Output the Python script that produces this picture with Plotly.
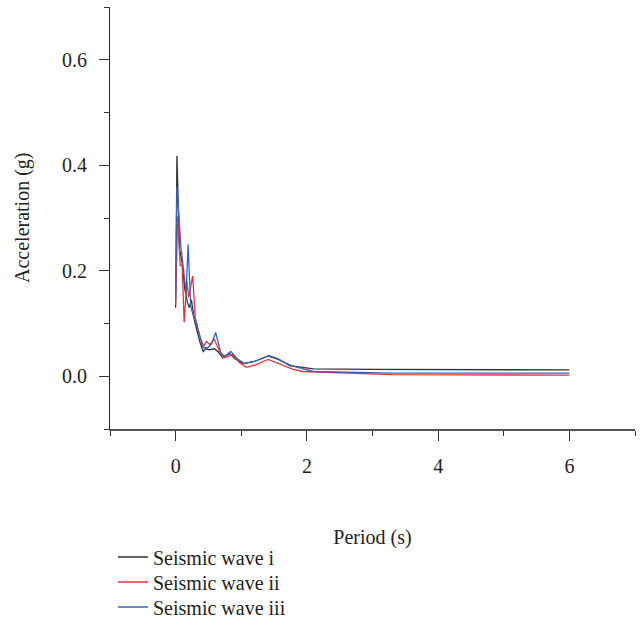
import plotly.graph_objects as go

# Seismic wave i (black)
period_i = [0, 0.02, 0.06, 0.1, 0.14, 0.18, 0.21, 0.24, 0.29, 0.33, 0.37, 0.42, 0.46, 0.51,
            0.59, 0.65, 0.72, 0.82, 0.92, 1.03, 1.2, 1.42, 1.56, 1.74, 2.1, 3.0, 4.5, 6.0]
acc_i = [0.13, 0.418, 0.24, 0.215, 0.165, 0.14, 0.13, 0.145, 0.104, 0.085, 0.065, 0.047, 0.052, 0.05,
         0.052, 0.046, 0.035, 0.043, 0.032, 0.024, 0.028, 0.039, 0.033, 0.02, 0.014, 0.013, 0.012, 0.012]

# Seismic wave ii (red)
period_ii = [0, 0.03, 0.07, 0.1, 0.13, 0.17, 0.2, 0.23, 0.26, 0.3, 0.34, 0.38, 0.43, 0.47, 0.52,
             0.59, 0.67, 0.74, 0.87, 0.98, 1.08, 1.23, 1.41, 1.61, 1.79, 1.94, 2.5, 3.3, 6.0]
acc_ii = [0.136, 0.303, 0.21, 0.21, 0.102, 0.18, 0.15, 0.17, 0.19, 0.11, 0.09, 0.07, 0.057, 0.066, 0.06,
          0.07, 0.047, 0.035, 0.041, 0.025, 0.017, 0.022, 0.032, 0.022, 0.013, 0.009, 0.006, 0.003, 0.002]

# Seismic wave iii (blue)
period_iii = [0, 0.02, 0.08, 0.1, 0.16, 0.19, 0.23, 0.28, 0.31, 0.37, 0.42, 0.49, 0.55, 0.61, 0.69,
              0.75, 0.84, 0.95, 1.05, 1.2, 1.41, 1.56, 1.79, 2.1, 3.3, 6.0]
acc_iii = [0.145, 0.359, 0.246, 0.221, 0.158, 0.25, 0.133, 0.11, 0.104, 0.076, 0.054, 0.054, 0.062, 0.083, 0.044,
           0.038, 0.047, 0.032, 0.024, 0.028, 0.038, 0.032, 0.019, 0.009, 0.006, 0.006]

names = ["Seismic wave i", "Seismic wave ii", "Seismic wave iii"]
colors = ["#333333", "#ee3333", "#3a62bd"]
legend_ids = ["legend", "legend2", "legend3"]
legend_rows_y = [0.1059, 0.0658, 0.0257]  # container fractions

FONT = "Liberation Serif"
FS = 20

fig = go.Figure()
for xs, ys, name, c, lg in [(period_i, acc_i, names[0], colors[0], legend_ids[0]),
                            (period_ii, acc_ii, names[1], colors[1], legend_ids[1]),
                            (period_iii, acc_iii, names[2], colors[2], legend_ids[2])]:
    fig.add_trace(go.Scatter(x=xs, y=ys, mode="lines", name=name, legend=lg,
                             line=dict(color=c, width=1.3)))

legend_common = dict(xref="container", yref="container", xanchor="left", yanchor="middle",
                     font=dict(family=FONT, size=FS, color="#231f20"),
                     bgcolor="rgba(0,0,0,0)", itemwidth=30)
legends = {lg: dict(x=113 / 641, y=yy, **legend_common) for lg, yy in zip(legend_ids, legend_rows_y)}

fig.update_layout(
    width=641, height=623,
    margin=dict(l=110, r=6, t=7, b=193.5, autoexpand=False),
    plot_bgcolor="white", paper_bgcolor="white",
    font=dict(family=FONT, size=FS, color="#231f20"),
    showlegend=True,
    xaxis=dict(range=[-1, 7], dtick=2, tick0=0, showgrid=False, zeroline=False, automargin=True,
               showline=True, linecolor="#555555", linewidth=1.5,
               ticks="outside", ticklen=10, tickcolor="#333333", tickwidth=1.2,
               minor=dict(ticks="outside", ticklen=5, dtick=1, tick0=0, tickcolor="#333333", tickwidth=1.2),
               ticklabelstandoff=8,
               title=dict(text="Period (s)", standoff=54, font=dict(family=FONT, size=FS))),
    yaxis=dict(range=[-0.1, 0.7], dtick=0.2, tick0=0, tickformat=".1f", showgrid=False, zeroline=False,
               automargin=True,
               showline=True, linecolor="#222222", linewidth=1.2,
               ticks="outside", ticklen=10, tickcolor="#333333", tickwidth=1.2,
               minor=dict(ticks="outside", ticklen=5, dtick=0.1, tick0=0, tickcolor="#333333", tickwidth=1.2),
               ticklabelstandoff=8),
    annotations=[dict(text="Acceleration (g)", textangle=-90, showarrow=False,
                      xref="paper", yref="paper", x=(22 - 110) / 525, y=0.5,
                      xanchor="center", yanchor="middle",
                      font=dict(family=FONT, size=FS, color="#231f20"))],
    **legends,
)

fig.write_html("out.html")
